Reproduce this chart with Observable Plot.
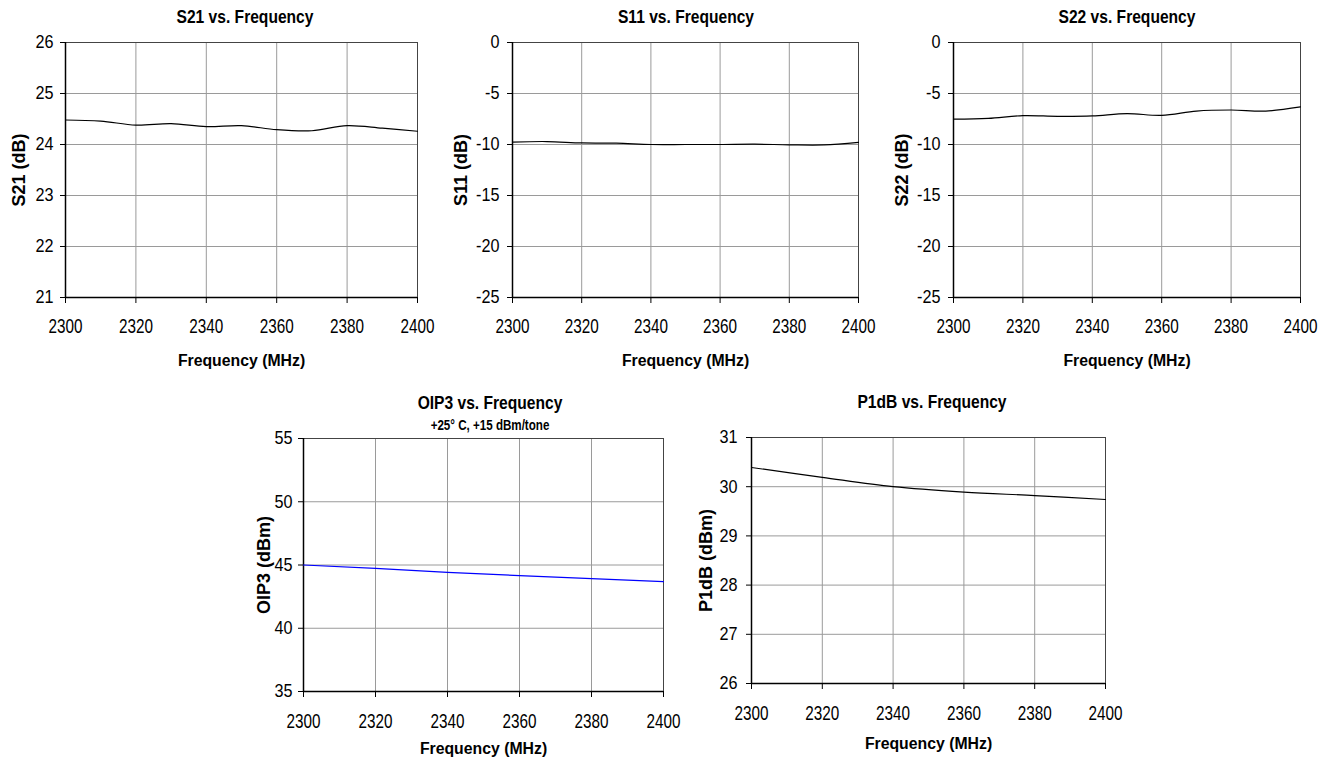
<!DOCTYPE html>
<html><head><meta charset="utf-8">
<script src="https://cdn.jsdelivr.net/npm/d3@7"></script>
<script src="https://cdn.jsdelivr.net/npm/@observablehq/plot@0.6"></script>
<style>
body{margin:0;background:#fff;}
#root{position:relative;width:1328px;height:757px;overflow:hidden;background:#fff;font-family:"Liberation Sans",Arial,sans-serif;}
.t{position:absolute;font-weight:bold;text-align:center;white-space:nowrap;color:#000;width:400px;transform:scaleY(1.2);transform-origin:50% 50%;}
.chart{position:absolute;}
</style></head><body><div id="root"></div>
<script>
// ---- data ----
const freqS = [2300, 2310, 2320, 2330, 2340, 2350, 2360, 2370, 2380, 2390, 2400];
const s21 = [24.48, 24.46, 24.38, 24.41, 24.35, 24.37, 24.29, 24.27, 24.37, 24.32, 24.26];
const s11 = [-9.76, -9.71, -9.85, -9.87, -10.0, -10.0, -10.0, -9.97, -10.03, -10.04, -9.8];
const s22 = [-7.52, -7.44, -7.17, -7.24, -7.2, -6.97, -7.14, -6.72, -6.62, -6.72, -6.32];
const freqP = [2300, 2320, 2340, 2360, 2380, 2400];
const oip3 = [45.0, 44.74, 44.42, 44.16, 43.92, 43.68];
const p1db = [30.39, 30.19, 30.0, 29.89, 29.82, 29.74];
const xTicks = [2300, 2320, 2340, 2360, 2380, 2400];
const s21Ticks = [21, 22, 23, 24, 25, 26];
const sParamTicks = [-25, -20, -15, -10, -5, 0];
const oip3Ticks = [35, 40, 45, 50, 55];
const p1dbTicks = [26, 27, 28, 29, 30, 31];
const titles = ["S21 vs. Frequency", "S11 vs. Frequency", "S22 vs. Frequency", "OIP3 vs. Frequency", "P1dB vs. Frequency"];
const oip3Subtitle = "+25° C, +15 dBm/tone";
const xLabel = "Frequency (MHz)";
const yLabels = ["S21 (dB)", "S11 (dB)", "S22 (dB)", "OIP3 (dBm)", "P1dB (dBm)"];

const FONT = '"Liberation Sans",Arial,sans-serif';
const root = document.getElementById("root");

function addTitle(text, cx, cy, size) {
  const d = document.createElement("div");
  d.className = "t";
  d.textContent = text;
  d.style.fontSize = size + "px";
  d.style.lineHeight = size + "px";
  d.style.left = (cx - 200) + "px";
  d.style.top = (cy - size / 2) + "px";
  root.appendChild(d);
}

function stretch(svg, sel, s) {
  d3.select(svg).selectAll(sel).each(function () {
    const t = this.getAttribute("transform") || "";
    this.setAttribute("transform", t + ` scale(1,${s})`);
  });
}

const fmt = d => String(d);

function makeChart(c) {
  const data = c.x.map((x, i) => ({x, y: c.y[i]}));
  const svg = Plot.plot({
    width: c.w, height: c.h,
    marginLeft: c.ml, marginRight: c.mr, marginTop: c.mt, marginBottom: c.mb,
    style: {fontFamily: FONT, overflow: "visible", background: "transparent", color: "#000"},
    x: {domain: [2300, 2400], ticks: xTicks},
    y: {domain: c.yDomain, ticks: c.yTicks},
    marks: [
      Plot.gridX(xTicks, {stroke: "#9a9a9a", strokeOpacity: 1}),
      Plot.gridY(c.yTicks, {stroke: "#9a9a9a", strokeOpacity: 1}),
      Plot.frame({stroke: "#444"}),
      Plot.ruleX([2300], {stroke: "#000", strokeWidth: 1.5}),
      Plot.ruleY([c.yDomain[0]], {stroke: "#000", strokeWidth: 1.5}),
      Plot.axisX(xTicks, {tickSize: 6, tickPadding: c.xpad, fontSize: 15.3, fontFamily: FONT, label: null, stroke: "#000", tickFormat: fmt}),
      Plot.axisY(c.yTicks, {tickSize: 5, tickPadding: c.ypad, fontSize: 16.2, fontFamily: FONT, label: null, stroke: "#000", tickFormat: fmt}),
      Plot.line(data, {x: "x", y: "y", stroke: c.color, strokeWidth: 1.2, curve: c.curve}),
      Plot.text([xLabel], {frameAnchor: "bottom", textAnchor: "middle", dy: c.xlo, lineAnchor: "bottom", fontWeight: "bold", fontSize: 15.8, fontFamily: FONT, ariaLabel: "xlabel"}),
      Plot.text([c.yLabel], {frameAnchor: "left", textAnchor: "middle", dx: -c.ylo, rotate: -90, lineAnchor: "top", fontWeight: "bold", fontSize: 18, fontFamily: FONT, ariaLabel: "ylabel"})
    ]
  });
  d3.select(svg).selectAll('g[aria-label="ylabel"] text').style("letter-spacing", "1px");
  stretch(svg, 'g[aria-label="x-axis tick label"] text', 1.3);
  stretch(svg, 'g[aria-label="y-axis tick label"] text', 1.15);
  stretch(svg, 'g[aria-label="xlabel"] text', 1.2);
  const wrap = document.createElement("div");
  wrap.className = "chart";
  wrap.style.left = c.px + "px";
  wrap.style.top = c.py + "px";
  wrap.appendChild(svg);
  root.appendChild(wrap);
}

makeChart({x: freqS, y: s21, yDomain: [21, 26], yTicks: s21Ticks, yLabel: yLabels[0], color: "#000", curve: "catmull-rom",
  px: 0, py: 0, w: 440, h: 380, ml: 65, mr: 23, mt: 42, mb: 83, xpad: 15, ypad: 7, xlo: 68, ylo: 53});
makeChart({x: freqS, y: s11, yDomain: [-25, 0], yTicks: sParamTicks, yLabel: yLabels[1], color: "#000", curve: "catmull-rom",
  px: 440, py: 0, w: 440, h: 380, ml: 72, mr: 22, mt: 42, mb: 83, xpad: 15, ypad: 8, xlo: 68, ylo: 58});
makeChart({x: freqS, y: s22, yDomain: [-25, 0], yTicks: sParamTicks, yLabel: yLabels[2], color: "#000", curve: "catmull-rom",
  px: 880, py: 0, w: 448, h: 380, ml: 73, mr: 28, mt: 42, mb: 83, xpad: 15, ypad: 8, xlo: 68, ylo: 58});
makeChart({x: freqP, y: oip3, yDomain: [35, 55], yTicks: oip3Ticks, yLabel: yLabels[3], color: "#0000ff", curve: "linear",
  px: 240, py: 380, w: 440, h: 377, ml: 63, mr: 17, mt: 58, mb: 66, xpad: 16, ypad: 6, xlo: 62, ylo: 46});
makeChart({x: freqP, y: p1db, yDomain: [26, 31], yTicks: p1dbTicks, yLabel: yLabels[4], color: "#000", curve: "catmull-rom",
  px: 680, py: 380, w: 440, h: 377, ml: 71, mr: 15, mt: 57, mb: 74, xpad: 16, ypad: 9, xlo: 65, ylo: 52});

addTitle(titles[0], 245, 17, 15.6);
addTitle(titles[1], 686, 17, 15.6);
addTitle(titles[2], 1127, 17, 15.6);
addTitle(titles[3], 490, 403, 15.6);
addTitle(oip3Subtitle, 490, 425, 11.6);
addTitle(titles[4], 932, 402, 15.6);
</script>
</body></html>
